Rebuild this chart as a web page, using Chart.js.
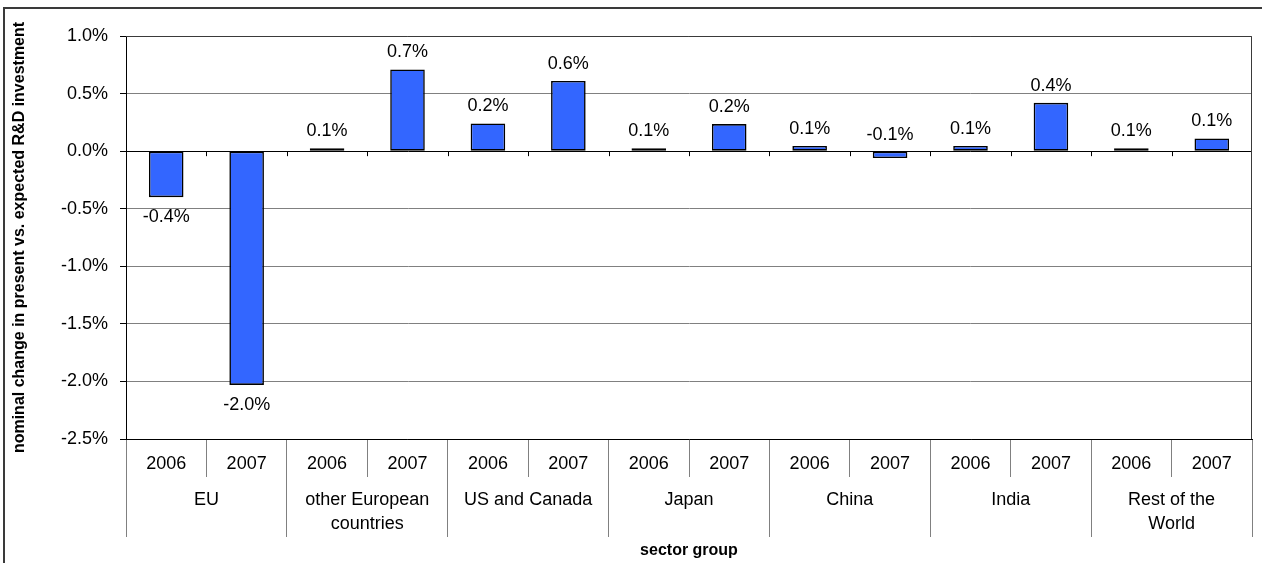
<!DOCTYPE html>
<html>
<head>
<meta charset="utf-8">
<title>R&amp;D investment change by region</title>
<script src="https://cdn.jsdelivr.net/npm/chart.js@4.4.0/dist/chart.umd.min.js"></script>
<style>
    html, body { margin: 0; padding: 0; background: #fff; overflow: hidden; }
    #wrap { position: relative; width: 1262px; height: 563px; }
    #chart { position: absolute; left: 0; top: 0; }
    #frame {
        position: absolute; left: 3px; top: 7px; width: 1300px; height: 600px;
        border: 2px solid #3a3a3a; pointer-events: none;
    }
</style>
</head>
<body>
<div id="wrap">
    <canvas id="chart" width="1262" height="563"></canvas>
    <div id="frame"></div>
</div>
<script>
// Data (values in percent)
const groups = [
    'EU',
    ['other European', 'countries'],
    'US and Canada',
    'Japan',
    'China',
    'India',
    ['Rest of the', 'World']
];
const years = ['2006', '2007'];
const values = [
    -0.40, -2.03,   // EU
    0.025, 0.71,    // other European countries
    0.24, 0.61,     // US and Canada
    0.025, 0.235,   // Japan
    0.045, -0.06,   // China
    0.045, 0.42,    // India
    0.025, 0.11     // Rest of the World
];
const valueLabels = [
    '-0.4%', '-2.0%',
    '0.1%', '0.7%',
    '0.2%', '0.6%',
    '0.1%', '0.2%',
    '0.1%', '-0.1%',
    '0.1%', '0.4%',
    '0.1%', '0.1%'
];
const yTicks = { min: -2.5, max: 1.0, step: 0.5 };

// one year label per bar
const yearLabels = [];
groups.forEach(function() {
    years.forEach(function(y) { yearLabels.push(y); });
});

Chart.defaults.font.family = '"Liberation Sans", Arial, sans-serif';
Chart.defaults.color = '#000';

// plot frame, little ticks on the zero line, and the value labels
const decorations = {
    id: 'decorations',
    afterDatasetsDraw(chart) {
        const ctx = chart.ctx;
        const area = chart.chartArea;
        const x = chart.scales.x;
        const y = chart.scales.y;
        const zero = y.getPixelForValue(0);

        ctx.save();
        // right and top edges of the plot
        ctx.strokeStyle = '#3a3a3a';
        ctx.lineWidth = 1;
        ctx.beginPath();
        ctx.moveTo(area.left, area.top + 0.5);
        ctx.lineTo(area.right - 0.5, area.top + 0.5);
        ctx.lineTo(area.right - 0.5, area.bottom);
        ctx.stroke();

        // tick marks between categories on the zero line
        ctx.strokeStyle = '#000';
        ctx.beginPath();
        for (let i = 1; i < yearLabels.length; i++) {
            const bx = Math.round((x.getPixelForValue(i - 1) + x.getPixelForValue(i)) / 2) + 0.5;
            ctx.moveTo(bx, zero);
            ctx.lineTo(bx, zero + 5);
        }
        ctx.stroke();

        // value labels
        ctx.font = '18px "Liberation Sans", Arial, sans-serif';
        ctx.fillStyle = '#000';
        ctx.textAlign = 'center';
        ctx.textBaseline = 'middle';
        const meta = chart.getDatasetMeta(0);
        meta.data.forEach(function(bar, i) {
            const v = values[i];
            let ty;
            if (v >= 0) {
                ty = bar.y - 17;
            } else if (Math.abs(bar.y - bar.base) > 20) {
                ty = bar.y + 20;
            } else {
                ty = bar.base - 17;
            }
            ctx.fillText(valueLabels[i], bar.x, ty);
        });
        ctx.restore();
    }
};

new Chart(document.getElementById('chart'), {
    type: 'bar',
    data: {
        labels: yearLabels,
        datasets: [{
            data: values,
            backgroundColor: '#3366FF',
            borderColor: '#000',
            borderWidth: 1.6,
            borderSkipped: false,
            barPercentage: 0.43,
            categoryPercentage: 1.0,
            xAxisID: 'x',
            yAxisID: 'y'
        }]
    },
    options: {
        responsive: false,
        animation: false,
        devicePixelRatio: 1,
        layout: { padding: { left: 0, top: 36, right: 10, bottom: 0 } },
        plugins: {
            legend: { display: false },
            tooltip: { enabled: false }
        },
        scales: {
            x: {
                type: 'category',
                position: 'bottom',
                weight: 0,
                offset: true,
                grid: {
                    offset: true,
                    drawOnChartArea: false,
                    drawTicks: true,
                    tickLength: 38,
                    color: '#808080',
                    tickColor: '#808080'
                },
                border: { display: true, color: '#000', width: 1 },
                ticks: {
                    autoSkip: false,
                    maxRotation: 0,
                    minRotation: 0,
                    padding: -23.5,
                    font: { size: 18, lineHeight: 1.2 }
                },
                afterFit: function(scale) { scale.height = 38; }
            },
            x2: {
                type: 'category',
                position: 'bottom',
                weight: 1,
                labels: groups,
                offset: true,
                grid: {
                    offset: true,
                    drawOnChartArea: false,
                    drawTicks: true,
                    tickLength: 60,
                    color: '#808080',
                    tickColor: '#808080'
                },
                border: { display: false },
                ticks: {
                    autoSkip: false,
                    maxRotation: 0,
                    minRotation: 0,
                    padding: -48.5,
                    font: { size: 18, lineHeight: 1.3 }
                },
                title: {
                    display: true,
                    text: 'sector group',
                    font: { size: 16, weight: 'bold', lineHeight: 1.2 },
                    padding: { top: 0, bottom: 3 }
                },
                afterFit: function(scale) { scale.height = 86; }
            },
            y: {
                min: yTicks.min,
                max: yTicks.max,
                grid: {
                    color: function(c) { return c.tick && c.tick.value === 0 ? '#000' : '#808080'; },
                    tickColor: '#000',
                    tickLength: 6,
                    lineWidth: 1
                },
                border: { display: true, color: '#000', width: 1 },
                ticks: {
                    stepSize: yTicks.step,
                    padding: 12,
                    font: { size: 18 },
                    callback: function(v) { return v.toFixed(1) + '%'; }
                },
                title: {
                    display: true,
                    text: 'nominal change in present vs. expected R&D investment',
                    font: { size: 16, weight: 'bold', lineHeight: 1.2 },
                    padding: { top: 10, bottom: 0 }
                },
                afterFit: function(scale) { scale.width = 126; }
            }
        }
    },
    plugins: [decorations]
});
</script>
</body>
</html>
